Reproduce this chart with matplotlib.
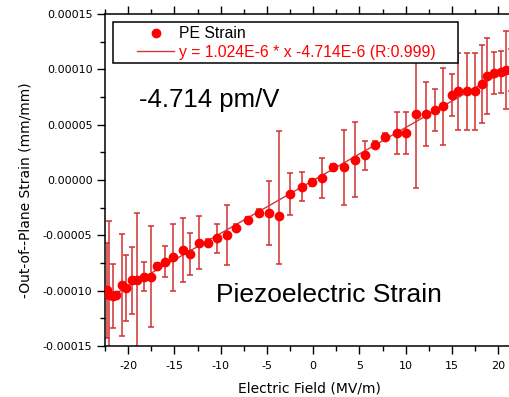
import numpy as np
import matplotlib
matplotlib.use("Agg")
from matplotlib import pyplot as plt
from matplotlib.ticker import MultipleLocator, FuncFormatter
from matplotlib.patches import Rectangle

# Dados (campo em MV/m, deformacao em mm/mm * 1e-6)
field = [-22.32, -22.11, -21.62, -21.35, -20.65, -20.22, -19.57, -19.03, -18.32, -17.51,
         -16.90, -16.00, -15.14, -14.09, -13.33, -12.29, -11.38, -10.41, -9.33, -8.29,
         -7.08, -5.89, -4.76, -3.68, -2.49, -1.24, -0.16, 0.97, 2.16, 3.35,
         4.49, 5.62, 6.70, 7.81, 9.05, 10.02, 11.10, 12.18, 13.16, 14.05,
         15.05, 15.70, 16.68, 17.44, 18.25, 18.83, 19.57, 20.25, 20.83, 21.41]
strain = [-99.5, -104.1, -104.5, -104.1, -94.8, -97.7, -90.8, -90.5, -87.2, -87.2,
          -77.9, -73.7, -70.0, -63.5, -66.8, -56.6, -56.6, -52.7, -49.5, -43.1,
          -36.2, -29.5, -29.5, -32.6, -12.3, -5.9, -2.0, 1.5, 11.3, 11.4,
          18.5, 22.3, 32.0, 39.2, 42.5, 42.8, 59.6, 59.6, 62.9, 66.5,
          76.4, 80.2, 80.0, 80.0, 86.8, 93.9, 97.1, 98.0, 99.5, 99.5]
err_up = [43, 67, 29, 3, 46, 30, 30, 61, 13, 46,
          3, 14, 30, 29, 19, 24, 3, 13, 27, 3,
          3, 3, 29, 77, 19, 13, 3, 18, 3, 34,
          34, 13, 3, 3, 19, 19, 67, 29, 19, 35,
          19, 35, 35, 35, 35, 34, 19, 19, 35, 19]
err_dn = [43, 67, 29, 3, 46, 30, 30, 61, 13, 46,
          3, 14, 30, 29, 19, 24, 3, 13, 27, 3,
          3, 3, 29, 43, 19, 13, 3, 18, 3, 34,
          34, 13, 3, 3, 19, 19, 67, 29, 19, 35,
          19, 35, 35, 35, 35, 34, 19, 19, 35, 19]

fit_label = "y = 1.024E-6 * x -4.714E-6 (R:0.999)"
coef_text = "-4.714 pm/V"
title_text = "Piezoelectric Strain"

x = np.array(field)
y = np.array(strain) * 1e-6
yerr = np.array([err_dn, err_up]) * 1e-6

plt.rcParams['axes.unicode_minus'] = False
plt.rcParams['font.family'] = 'DejaVu Sans'

W, H = 510, 397
fig = plt.figure(figsize=(W / 100, H / 100), dpi=100)
ax = fig.add_axes([105 / W, (H - 346) / H, (513 - 105) / W, 332 / H])

# barras de erro
ax.errorbar(x, y, yerr=yerr, fmt='none', ecolor='#d23030', elinewidth=1.1,
            capsize=2.3, capthick=1.1, zorder=2)

# reta ajustada + pontos
a, b = np.polyfit(x, y, 1)
xf = np.array([x.min(), x.max()])
ax.plot(xf, a * xf + b, color='#cc3a3a', lw=1.0, zorder=3, label=fit_label)
ax.plot(x, y, 'o', color='red', ms=6, mec='red', zorder=4, label='PE Strain')

ax.set_xlim(-22.5, 21.6)
ax.set_ylim(-0.00015, 0.00015)
ax.xaxis.set_major_locator(MultipleLocator(5))
ax.xaxis.set_minor_locator(MultipleLocator(2.5))
ax.yaxis.set_major_locator(MultipleLocator(0.00005))
ax.yaxis.set_minor_locator(MultipleLocator(0.000025))
ax.yaxis.set_major_formatter(FuncFormatter(lambda v, p: f"{round(v, 6) + 0.0:.5f}"))
ax.xaxis.set_major_formatter(FuncFormatter(lambda v, p: f"{int(round(v))}"))

ax.tick_params(which='major', direction='out', length=6, width=1, labelsize=8, pad=3)
ax.tick_params(which='minor', direction='out', length=3.5, width=1)
ax.tick_params(axis='x', which='both', top=True)
ax.tick_params(axis='x', pad=5)
for s in ax.spines.values():
    s.set_linewidth(1.1)

ax.set_xlabel('Electric Field (MV/m)', fontsize=10, labelpad=7)
ax.set_ylabel('-Out-of--Plane Strain (mm/mm)', fontsize=10)
ax.yaxis.set_label_coords(-0.178, 0.47)

# moldura da legenda (desenhada a parte) e legenda sem moldura
box = Rectangle((113 / W, 1 - 63 / H), 345 / W, 41 / H, transform=fig.transFigure,
                facecolor='white', edgecolor='black', lw=1.1, clip_on=False, zorder=5)
ax.add_patch(box)

h, l = ax.get_legend_handles_labels()
leg = ax.legend([h[1], h[0]], [l[1], l[0]], loc='upper left',
                bbox_to_anchor=(137 / W, 1 - 26 / H), bbox_transform=fig.transFigure,
                borderaxespad=0, borderpad=0, frameon=False,
                prop={'family': 'Liberation Sans', 'size': 11.3},
                handlelength=2.36, handletextpad=0.3, labelspacing=0.25)
leg.set_zorder(6)
leg.get_texts()[1].set_color('red')

fig.text(139 / W, 1 - 107 / H, coef_text, fontsize=18.5, family='Liberation Sans',
         va='baseline', ha='left')
fig.text(216 / W, 1 - 302 / H, title_text, fontsize=19, family='Liberation Sans',
         va='baseline', ha='left')

fig.savefig('out.png', dpi=100)
